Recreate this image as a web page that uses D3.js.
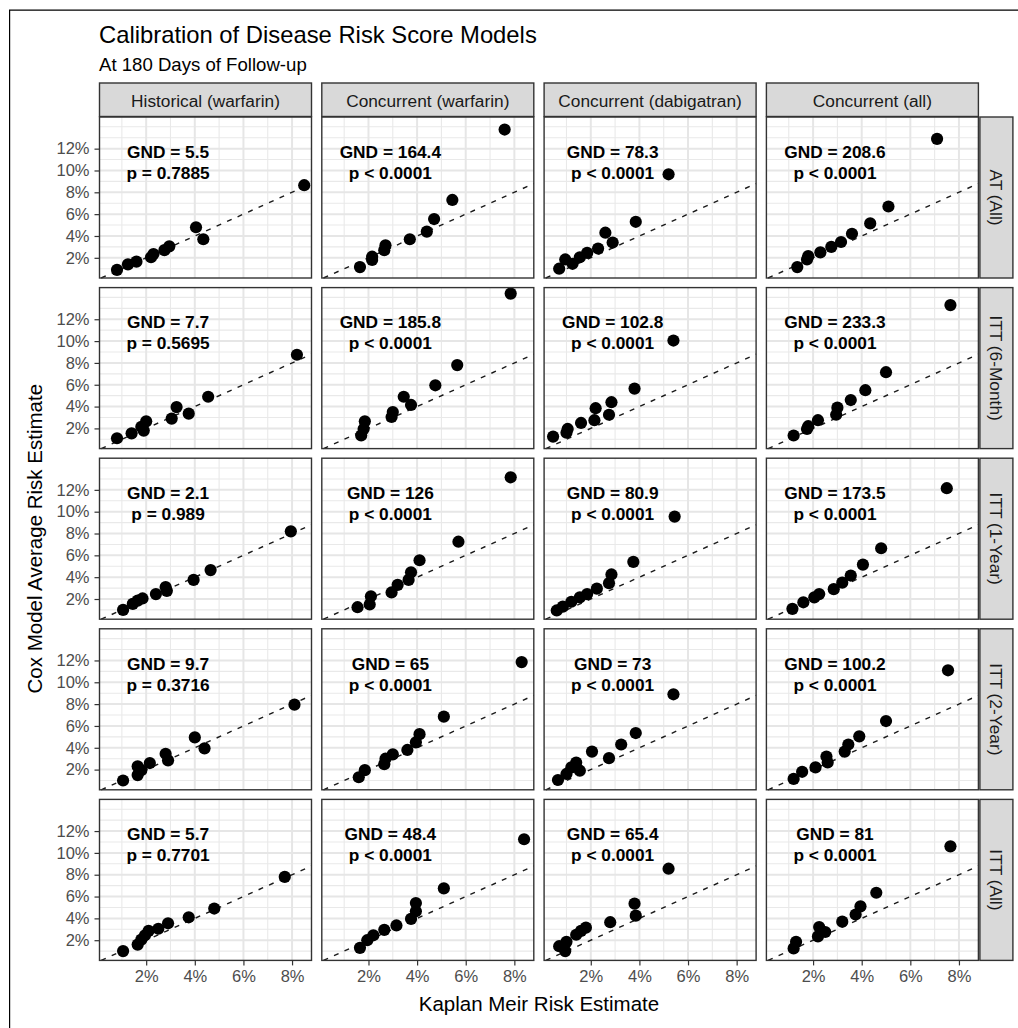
<!DOCTYPE html>
<html>
<head>
<meta charset="utf-8">
<script src="https://cdn.jsdelivr.net/npm/d3@7"></script>
<style>
	body { margin: 0; background: #fff; }
	svg text { font-family: "Liberation Sans", Arial, sans-serif; }
	.tick text { fill: #4d4d4d; font-size: 16.5px; }
	.tick line { stroke: #333; stroke-width: 1.2; }
</style>
</head>
<body>
<div id="chart"></div>
<script>
const rowLabels = ["AT (All)", "ITT (6-Month)", "ITT (1-Year)", "ITT (2-Year)", "ITT (All)"];
const colLabels = ["Historical (warfarin)", "Concurrent (warfarin)", "Concurrent (dabigatran)", "Concurrent (all)"];

const xTicks = [2, 4, 6, 8];
const yTicks = [2, 4, 6, 8, 10, 12];
const xMinor = [1, 3, 5, 7];
const yMinor = [1, 3, 5, 7, 9, 11, 13, 14];

const gndLabels = [
	["GND = 5.5", "GND = 164.4", "GND = 78.3", "GND = 208.6"],
	["GND = 7.7", "GND = 185.8", "GND = 102.8", "GND = 233.3"],
	["GND = 2.1", "GND = 126", "GND = 80.9", "GND = 173.5"],
	["GND = 9.7", "GND = 65", "GND = 73", "GND = 100.2"],
	["GND = 5.7", "GND = 48.4", "GND = 65.4", "GND = 81"]
];
const pLabels = [
	["p = 0.7885", "p < 0.0001", "p < 0.0001", "p < 0.0001"],
	["p = 0.5695", "p < 0.0001", "p < 0.0001", "p < 0.0001"],
	["p = 0.989", "p < 0.0001", "p < 0.0001", "p < 0.0001"],
	["p = 0.3716", "p < 0.0001", "p < 0.0001", "p < 0.0001"],
	["p = 0.7701", "p < 0.0001", "p < 0.0001", "p < 0.0001"]
];

// [Kaplan Meir %, Cox model %] per panel, one array per row
const pts_at_all = [
	[[0.8,0.9],[1.25,1.4],[1.6,1.65],[2.2,2.05],[2.3,2.35],[2.75,2.7],[2.95,3.05],[4.05,4.8],[4.35,3.7],[8.5,8.65]],
	[[1.65,1.15],[2.15,1.8],[2.15,2.1],[2.65,2.7],[2.7,3.15],[3.7,3.7],[4.4,4.4],[4.7,5.55],[5.45,7.3],[7.6,13.75]],
	[[0.7,1.0],[0.95,1.85],[1.25,1.45],[1.55,2.05],[1.85,2.45],[2.3,2.85],[2.6,4.3],[2.9,3.4],[3.85,5.3],[5.2,9.65]],
	[[1.35,1.15],[1.75,1.85],[1.8,2.15],[2.3,2.5],[2.75,3.0],[3.15,3.45],[3.6,4.2],[4.35,5.15],[5.1,6.7],[7.1,12.9]]
];
const pts_itt_6m = [
	[[0.8,1.1],[1.4,1.55],[1.8,2.15],[1.9,1.8],[2.0,2.65],[3.05,2.9],[3.25,3.95],[3.75,3.35],[4.55,4.9],[8.2,8.75]],
	[[1.7,1.35],[1.8,1.95],[1.85,2.65],[2.95,3.05],[3.0,3.5],[3.45,4.9],[3.75,4.15],[4.75,5.95],[5.65,7.8],[7.85,14.35]],
	[[0.45,1.25],[1.0,1.6],[1.05,1.95],[1.6,2.5],[2.15,2.75],[2.2,3.85],[2.75,3.25],[2.85,4.4],[3.8,5.65],[5.4,10.05]],
	[[1.2,1.35],[1.75,1.95],[1.8,2.2],[2.2,2.75],[2.95,3.25],[3.0,3.9],[3.55,4.6],[4.15,5.5],[5.0,7.15],[7.65,13.3]]
];
const pts_itt_1y = [
	[[1.05,1.0],[1.45,1.55],[1.65,1.85],[1.85,2.05],[2.4,2.45],[2.8,3.1],[2.85,2.75],[3.95,3.75],[4.65,4.65],[7.95,8.2]],
	[[1.55,1.25],[2.05,1.5],[2.1,2.25],[2.95,2.6],[3.2,3.3],[3.65,3.75],[3.75,4.45],[4.1,5.55],[5.7,7.25],[7.85,13.15]],
	[[0.6,0.95],[0.85,1.3],[1.2,1.75],[1.55,2.15],[1.85,2.45],[2.25,2.95],[2.75,3.45],[2.85,4.25],[3.75,5.4],[5.45,9.55]],
	[[1.15,1.1],[1.6,1.7],[2.05,2.15],[2.25,2.45],[2.85,2.9],[3.2,3.5],[3.55,4.15],[4.05,5.15],[4.8,6.65],[7.5,12.15]]
];
const pts_itt_2y = [
	[[1.05,1.0],[1.65,1.5],[1.65,2.3],[1.8,1.95],[2.15,2.6],[2.8,3.45],[2.9,2.85],[4.0,4.95],[4.4,3.95],[8.1,7.95]],
	[[1.6,1.3],[1.85,1.95],[2.65,2.5],[2.7,3.0],[3.0,3.4],[3.6,3.8],[3.95,4.5],[4.1,5.25],[5.1,6.85],[8.3,11.85]],
	[[0.65,1.05],[1.0,1.6],[1.2,2.2],[1.4,2.65],[1.55,1.9],[2.05,3.65],[2.75,3.05],[3.25,4.3],[3.85,5.35],[5.4,8.9]],
	[[1.2,1.15],[1.55,1.8],[2.1,2.2],[2.55,3.2],[2.6,2.65],[3.3,3.65],[3.45,4.3],[3.9,5.05],[5.0,6.45],[7.55,11.1]]
];
const pts_itt_all = [
	[[1.05,1.0],[1.65,1.6],[1.8,2.05],[1.95,2.45],[2.1,2.85],[2.5,3.05],[2.9,3.55],[3.75,4.1],[4.8,4.9],[7.7,7.8]],
	[[1.65,1.3],[1.95,2.0],[2.2,2.45],[2.65,2.95],[3.15,3.35],[3.75,3.95],[3.95,4.65],[3.95,5.4],[5.1,6.75],[8.4,11.25]],
	[[0.7,1.45],[0.95,1.0],[1.0,1.85],[1.4,2.5],[1.6,2.85],[1.8,3.15],[2.8,3.65],[3.8,5.35],[3.85,4.25],[5.2,8.55]],
	[[1.2,1.25],[1.3,1.85],[2.2,2.35],[2.25,3.2],[2.5,2.75],[3.2,3.7],[3.75,4.35],[3.95,5.1],[4.6,6.35],[7.65,10.6]]
];
const allRows = [pts_at_all, pts_itt_6m, pts_itt_1y, pts_itt_2y, pts_itt_all];

const labelAt = [2.9, 10.75];

const panelLeft = 99.5, panelTop = 117, panelW = 212, panelH = 161, gapX = 10.3, gapY = 9.6;

const svg = d3.select("#chart").append("svg")
	.attr("width", 1018)
	.attr("height", 1028);

svg.append("path")
	.attr("d", "M9.6,1028V10.2H1018")
	.attr("fill", "none")
	.attr("stroke", "#000")
	.attr("stroke-width", 1.2);

svg.append("text")
	.attr("x", 99)
	.attr("y", 43)
	.style("font-size", "23.8px")
	.style("fill", "#000")
	.text("Calibration of Disease Risk Score Models");

svg.append("text")
	.attr("x", 99)
	.attr("y", 71)
	.style("font-size", "18.6px")
	.style("fill", "#000")
	.text("At 180 Days of Follow-up");

const xs = d3.scaleLinear().domain([0.08, 8.8]).range([0, panelW]);
const ys = d3.scaleLinear().domain([0.15, 14.9]).range([panelH, 0]);

function drawPanel(g, pts, r, c) {
	g.append("rect")
		.attr("width", panelW)
		.attr("height", panelH)
		.attr("fill", "#fff");

	g.selectAll(".minorX").data(xMinor).enter().append("line")
		.attr("x1", d => xs(d)).attr("x2", d => xs(d))
		.attr("y1", 0).attr("y2", panelH)
		.attr("stroke", "#e9e9e9").attr("stroke-width", 1.1);
	g.selectAll(".minorY").data(yMinor).enter().append("line")
		.attr("y1", d => ys(d)).attr("y2", d => ys(d))
		.attr("x1", 0).attr("x2", panelW)
		.attr("stroke", "#e9e9e9").attr("stroke-width", 1.1);
	g.selectAll(".majorX").data(xTicks).enter().append("line")
		.attr("x1", d => xs(d)).attr("x2", d => xs(d))
		.attr("y1", 0).attr("y2", panelH)
		.attr("stroke", "#e6e6e6").attr("stroke-width", 2);
	g.selectAll(".majorY").data(yTicks).enter().append("line")
		.attr("y1", d => ys(d)).attr("y2", d => ys(d))
		.attr("x1", 0).attr("x2", panelW)
		.attr("stroke", "#e6e6e6").attr("stroke-width", 2);

	const lo = ys.domain()[0], hi = xs.domain()[1];
	g.append("line")
		.attr("x1", xs(lo)).attr("y1", ys(lo))
		.attr("x2", xs(hi)).attr("y2", ys(hi))
		.attr("stroke", "#1a1a1a")
		.attr("stroke-width", 1.4)
		.attr("stroke-dasharray", "5,6.5");

	g.selectAll("circle").data(pts).enter().append("circle")
		.attr("cx", d => xs(d[0]))
		.attr("cy", d => ys(d[1]))
		.attr("r", 6.1)
		.attr("fill", "#000");

	const lbl = g.append("text")
		.attr("text-anchor", "middle")
		.style("font-size", "17.3px")
		.style("font-weight", "bold")
		.style("fill", "#000");
	lbl.append("tspan")
		.attr("x", xs(labelAt[0]))
		.attr("y", ys(labelAt[1]) - 4.5)
		.text(gndLabels[r][c]);
	lbl.append("tspan")
		.attr("x", xs(labelAt[0]))
		.attr("y", ys(labelAt[1]) + 16.5)
		.text(pLabels[r][c]);

	g.append("rect")
		.attr("width", panelW)
		.attr("height", panelH)
		.attr("fill", "none")
		.attr("stroke", "#333")
		.attr("stroke-width", 1.4);

	if (c === 0) {
		const ax = g.append("g").call(d3.axisLeft(ys)
			.tickValues(yTicks)
			.tickSize(5)
			.tickPadding(5)
			.tickFormat(d => d + "%"));
		ax.select(".domain").remove();
	}
	if (r === rowLabels.length - 1) {
		const ax = g.append("g").attr("transform", "translate(0," + panelH + ")").call(d3.axisBottom(xs)
			.tickValues(xTicks)
			.tickSize(5)
			.tickPadding(5)
			.tickFormat(d => d + "%"));
		ax.select(".domain").remove();
	}
}

allRows.forEach((rowPts, r) => {
	rowPts.forEach((pts, c) => {
		const g = svg.append("g")
			.attr("transform", "translate(" + (panelLeft + c * (panelW + gapX)) + "," + (panelTop + r * (panelH + gapY)) + ")");
		drawPanel(g, pts, r, c);
	});
});

colLabels.forEach((d, c) => {
	const x0 = panelLeft + c * (panelW + gapX);
	svg.append("rect")
		.attr("x", x0).attr("y", 83)
		.attr("width", panelW).attr("height", 33.5)
		.attr("fill", "#d9d9d9")
		.attr("stroke", "#333")
		.attr("stroke-width", 1.4);
	svg.append("text")
		.attr("x", x0 + panelW / 2)
		.attr("y", 100.5)
		.attr("text-anchor", "middle")
		.attr("dominant-baseline", "central")
		.style("font-size", "17.3px")
		.style("fill", "#1a1a1a")
		.text(d);
});

const stripX = panelLeft + 3 * (panelW + gapX) + panelW + 1.5;
rowLabels.forEach((d, r) => {
	const y0 = panelTop + r * (panelH + gapY);
	svg.append("rect")
		.attr("x", stripX).attr("y", y0)
		.attr("width", 33).attr("height", panelH)
		.attr("fill", "#d9d9d9")
		.attr("stroke", "#333")
		.attr("stroke-width", 1.4);
	svg.append("text")
		.attr("transform", "translate(" + (stripX + 16.5) + "," + (y0 + panelH / 2) + ") rotate(90)")
		.attr("text-anchor", "middle")
		.attr("dominant-baseline", "central")
		.style("font-size", "17.3px")
		.style("fill", "#1a1a1a")
		.text(d);
});

const panelsRight = panelLeft + 4 * panelW + 3 * gapX;
const panelsBottom = panelTop + 5 * panelH + 4 * gapY;

svg.append("text")
	.attr("x", (panelLeft + panelsRight) / 2)
	.attr("y", 1011)
	.attr("text-anchor", "middle")
	.style("font-size", "20.5px")
	.style("fill", "#000")
	.text("Kaplan Meir Risk Estimate");

svg.append("text")
	.attr("transform", "translate(42," + ((panelTop + panelsBottom) / 2) + ") rotate(-90)")
	.attr("text-anchor", "middle")
	.style("font-size", "20.5px")
	.style("fill", "#000")
	.text("Cox Model Average Risk Estimate");
</script>
</body>
</html>
